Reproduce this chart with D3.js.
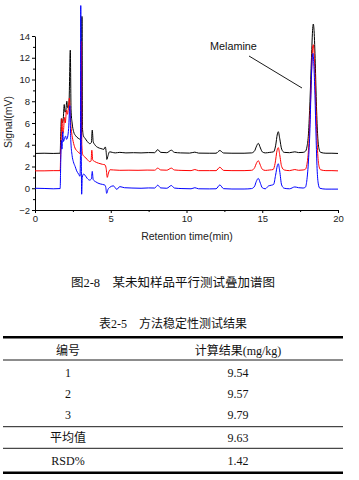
<!DOCTYPE html>
<html>
<head>
<meta charset="utf-8">
<script src="https://cdn.jsdelivr.net/npm/d3@7"></script>
<style>
body { margin: 0; background: #fff; }
svg { display: block; }
</style>
</head>
<body>
<svg id="chart" width="359" height="480"></svg>
<script>
// chromatogram traces: [time (min), signal (mV)]
var blackTrace = [[0,3.2],[0.6,3.22],[1.2,3.2],[1.66,3.22],[1.7,5.0],[1.74,6.4],[1.8,6.0],[1.86,6.3],[1.93,7.7],[1.98,7.0],[2.03,7.1],[2.1,8.0],[2.16,7.4],[2.24,7.7],[2.33,12.7],[2.38,7.2],[2.45,6.0],[2.55,5.2],[2.7,4.8],[2.85,4.6],[3.0,4.5],[3.07,5.5],[3.1,15.8],[3.13,5.6],[3.2,4.8],[3.3,4.6],[3.45,4.3],[3.62,4.1],[3.72,4.2],[3.78,5.35],[3.84,4.3],[3.95,4.0],[4.15,3.75],[4.35,3.65],[4.55,3.58],[4.64,3.8],[4.7,3.3],[4.74,2.65],[4.82,3.0],[4.92,3.35],[5.1,3.3],[5.3,3.25],[5.6,3.3],[6.0,3.25],[6.5,3.27],[7.0,3.25],[7.5,3.28],[7.9,3.27],[8.1,3.55],[8.3,3.3],[8.7,3.27],[9.0,3.5],[9.2,3.3],[9.6,3.25],[10.2,3.23],[10.55,3.32],[10.8,3.23],[11.5,3.22],[11.95,3.22],[12.2,3.47],[12.45,3.24],[13.0,3.22],[13.8,3.22],[14.3,3.25],[14.5,3.45],[14.6,3.8],[14.74,4.13],[14.88,3.7],[15.0,3.35],[15.2,3.25],[15.5,3.3],[15.75,3.35],[15.88,3.9],[16.0,5.0],[16.06,5.2],[16.15,4.6],[16.28,3.6],[16.45,3.3],[16.8,3.27],[17.15,3.35],[17.4,3.28],[17.7,3.3],[17.85,3.4],[17.95,3.8],[18.05,5.0],[18.15,8.0],[18.25,12.0],[18.33,14.7],[18.37,15.1],[18.42,14.5],[18.5,11.5],[18.58,7.5],[18.66,4.8],[18.75,3.6],[18.85,3.3],[19.2,3.22],[19.6,3.22],[20,3.2]];

var redTrace = [[0,1.6],[0.6,1.6],[1.2,1.62],[1.66,1.62],[1.7,3.5],[1.74,5.0],[1.78,6.4],[1.82,5.0],[1.88,5.3],[1.95,6.5],[2.0,6.0],[2.08,7.2],[2.14,6.8],[2.2,7.3],[2.27,8.3],[2.33,6.5],[2.42,5.1],[2.52,4.3],[2.64,3.7],[2.8,3.4],[2.97,3.2],[3.03,5],[3.06,13.5],[3.09,4],[3.15,3.1],[3.3,2.85],[3.45,2.65],[3.6,2.45],[3.7,2.5],[3.75,3.5],[3.81,2.6],[3.95,2.45],[4.2,2.3],[4.45,2.2],[4.62,2.15],[4.7,1.8],[4.77,1.0],[4.85,1.4],[4.95,1.7],[5.2,1.68],[5.6,1.65],[6.2,1.66],[6.8,1.65],[7.4,1.67],[7.9,1.66],[8.1,1.85],[8.3,1.68],[8.7,1.66],[9.0,1.85],[9.2,1.68],[9.7,1.64],[10.3,1.62],[10.55,1.72],[10.8,1.62],[11.5,1.62],[11.95,1.62],[12.2,1.93],[12.45,1.64],[13.0,1.62],[13.8,1.62],[14.3,1.65],[14.5,1.9],[14.6,2.25],[14.74,2.53],[14.88,2.1],[15.0,1.75],[15.2,1.64],[15.5,1.68],[15.72,1.72],[15.85,2.3],[15.98,3.5],[16.06,3.73],[16.15,3.1],[16.28,2.0],[16.45,1.68],[16.8,1.62],[17.15,1.72],[17.4,1.65],[17.7,1.68],[17.85,1.75],[17.95,2.2],[18.05,3.5],[18.15,6.5],[18.25,10.5],[18.33,13.0],[18.37,13.2],[18.42,12.5],[18.5,9.5],[18.58,5.8],[18.66,3.2],[18.75,2.0],[18.85,1.7],[19.2,1.62],[19.6,1.62],[20,1.6]];

var blueTrace = [[0,0.0],[0.6,-0.02],[1.2,-0.05],[1.66,-0.03],[1.7,2.5],[1.74,4.4],[1.78,3.6],[1.83,5.2],[1.88,4.3],[1.95,4.6],[2.02,4.8],[2.08,4.5],[2.15,4.7],[2.22,5.5],[2.3,7.6],[2.36,4.5],[2.45,3.0],[2.53,2.45],[2.65,2.0],[2.75,1.6],[2.88,1.3],[2.97,1.1],[3.0,3],[3.02,16.8],[3.05,5],[3.08,-0.55],[3.12,1.0],[3.2,1.3],[3.3,1.2],[3.45,0.9],[3.6,0.75],[3.72,0.85],[3.78,1.55],[3.84,0.8],[4.0,0.6],[4.3,0.4],[4.6,0.3],[4.67,0.1],[4.73,-0.47],[4.82,-0.1],[4.95,0.1],[5.17,0.22],[5.4,-0.1],[5.6,0.15],[5.9,0.05],[6.4,0.02],[7.0,0.0],[7.5,0.03],[7.9,0.02],[8.1,0.28],[8.3,0.03],[8.7,0.0],[9.0,0.25],[9.2,0.02],[9.7,-0.03],[10.3,-0.05],[10.55,0.05],[10.8,-0.05],[11.5,-0.06],[11.95,-0.05],[12.2,0.3],[12.45,-0.04],[13.0,-0.07],[13.8,-0.07],[14.3,-0.03],[14.5,0.2],[14.6,0.6],[14.74,0.9],[14.88,0.45],[15.0,0.05],[15.2,-0.05],[15.4,0.2],[15.6,0.28],[15.75,0.35],[15.88,1.2],[16.0,2.1],[16.06,2.25],[16.15,1.6],[16.28,0.3],[16.45,0.0],[16.8,-0.05],[17.15,0.12],[17.4,0.05],[17.7,0.02],[17.85,0.1],[17.95,0.8],[18.05,2.5],[18.15,5.5],[18.22,9.0],[18.3,12.0],[18.35,12.4],[18.4,11.5],[18.48,8.5],[18.55,4.8],[18.62,1.8],[18.7,0.4],[18.8,0.0],[19.2,-0.08],[19.6,-0.08],[20,-0.08]];

var xMajor = [0, 5, 10, 15, 20];
var xMinor = [2.5, 7.5, 12.5, 17.5];
var yMajor = [-2, 0, 2, 4, 6, 8, 10, 12, 14];
var yMinor = [-1, 1, 3, 5, 7, 9, 11, 13];

var figCaption = "图2-8　某未知样品平行测试叠加谱图";
var tableCaption = "表2-5　方法稳定性测试结果";
var tableHeader = ["编号", "计算结果(mg/kg)"];
var tableRows = [["1", "9.54"], ["2", "9.57"], ["3", "9.79"], ["平均值", "9.63"], ["RSD%", "1.42"]];

var svg = d3.select("#chart");
var sans = "'Liberation Sans', Arial, sans-serif";
var serif = "'Liberation Serif', 'Times New Roman', 'Noto Sans CJK SC', serif";

var x = d3.scaleLinear().domain([0, 20]).range([35, 338]);
var y = d3.scaleLinear().domain([-2, 14]).range([210, 36]);

// minor ticks first, so the major axes sit on top
svg.append("g")
    .attr("transform", "translate(0,210)")
    .call(d3.axisBottom(x).tickValues(xMinor).tickSize(2).tickFormat(""))
    .call(function (g) { g.select(".domain").remove(); });
svg.append("g")
    .attr("transform", "translate(35,0)")
    .call(d3.axisLeft(y).tickValues(yMinor).tickSize(2).tickFormat(""))
    .call(function (g) { g.select(".domain").remove(); });

var xAxis = svg.append("g")
    .attr("transform", "translate(0,210)")
    .call(d3.axisBottom(x).tickValues(xMajor).tickSize(3).tickSizeOuter(0).tickPadding(2));
var yAxis = svg.append("g")
    .attr("transform", "translate(35,0)")
    .call(d3.axisLeft(y).tickValues(yMajor).tickSize(3).tickSizeOuter(0).tickPadding(2));

[xAxis, yAxis].forEach(function (g) {
    g.attr("font-family", sans).attr("font-size", 9.5);
    g.selectAll("text").attr("fill", "#222");
});

var line = d3.line()
    .x(function (d) { return x(d[0]); })
    .y(function (d) { return y(d[1]); })
    .curve(d3.curveMonotoneX);

var traces = [
    { data: blackTrace, color: "#000000" },
    { data: redTrace, color: "#ff0000" },
    { data: blueTrace, color: "#0000ff" }
];

svg.selectAll(".trace")
    .data(traces)
    .enter().append("path")
    .attr("class", "trace")
    .attr("fill", "none")
    .attr("stroke", function (d) { return d.color; })
    .attr("stroke-width", 1)
    .attr("stroke-linejoin", "round")
    .attr("d", function (d) { return line(d.data); });

// axis titles
svg.append("text")
    .attr("x", 187)
    .attr("y", 240)
    .attr("text-anchor", "middle")
    .attr("font-family", sans)
    .attr("font-size", 10.5)
    .attr("fill", "#222")
    .text("Retention time(min)");

svg.append("text")
    .attr("transform", "translate(12,122) rotate(-90)")
    .attr("text-anchor", "middle")
    .attr("font-family", sans)
    .attr("font-size", 10.5)
    .attr("fill", "#222")
    .text("Signal(mV)");

// annotation
svg.append("text")
    .attr("x", 210)
    .attr("y", 50)
    .attr("font-family", sans)
    .attr("font-size", 10.8)
    .attr("fill", "#111")
    .text("Melamine");
svg.append("line")
    .attr("x1", 249).attr("y1", 56)
    .attr("x2", 302).attr("y2", 88)
    .attr("stroke", "#000")
    .attr("stroke-width", 0.9);

// captions
svg.append("text")
    .attr("x", 173)
    .attr("y", 287)
    .attr("text-anchor", "middle")
    .attr("font-family", serif)
    .attr("font-size", 12.5)
    .attr("fill", "#111")
    .text(figCaption);

svg.append("text")
    .attr("x", 173)
    .attr("y", 327.5)
    .attr("text-anchor", "middle")
    .attr("font-family", serif)
    .attr("font-size", 12)
    .attr("fill", "#111")
    .text(tableCaption);

// three-line table
var colX = [68, 238];
var rowY = [373, 394, 415, 438, 461];
var rules = [
    { y: 337.3, w: 2.4 },
    { y: 360, w: 0.9 },
    { y: 426.7, w: 0.9 },
    { y: 448.3, w: 0.9 },
    { y: 472.7, w: 2.4 }
];

svg.selectAll(".rule")
    .data(rules)
    .enter().append("line")
    .attr("class", "rule")
    .attr("x1", 3).attr("x2", 343)
    .attr("y1", function (d) { return d.y; })
    .attr("y2", function (d) { return d.y; })
    .attr("stroke", "#000")
    .attr("stroke-width", function (d) { return d.w; });

svg.selectAll(".head")
    .data(tableHeader)
    .enter().append("text")
    .attr("class", "head")
    .attr("x", function (d, i) { return colX[i]; })
    .attr("y", 355)
    .attr("text-anchor", "middle")
    .attr("font-family", serif)
    .attr("font-size", 12)
    .attr("fill", "#111")
    .text(function (d) { return d; });

tableRows.forEach(function (row, r) {
    svg.selectAll(".cell" + r)
        .data(row)
        .enter().append("text")
        .attr("x", function (d, i) { return colX[i]; })
        .attr("y", rowY[r] + 4.2)
        .attr("text-anchor", "middle")
        .attr("font-family", serif)
        .attr("font-size", 12)
        .attr("fill", "#111")
        .text(function (d) { return d; });
});
</script>
</body>
</html>
